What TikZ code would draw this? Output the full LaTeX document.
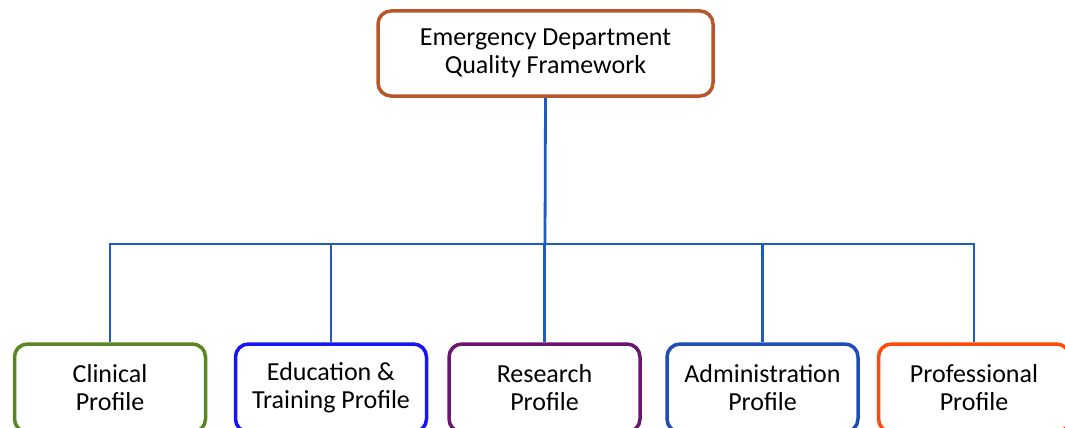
\documentclass[tikz,border=0pt]{standalone}
\usepackage{fontspec}
\setmainfont{Carlito}
\definecolor{topc}{HTML}{B8582A}
\definecolor{clinc}{HTML}{5A8520}
\definecolor{educ}{HTML}{1515F5}
\definecolor{resc}{HTML}{6A1570}
\definecolor{admc}{HTML}{1E4DB8}
\definecolor{proc}{HTML}{FF4A0A}
\definecolor{connc}{HTML}{1F5CBF}
\tikzset{
  box/.style={draw, line width=3.5pt, rounded corners=13pt, fill=white, align=center,
    font=\fontsize{26}{28}\selectfont, inner sep=0pt},
  kid/.style={box, minimum width=191pt, minimum height=88pt},
  conn/.style={draw=connc, line width=2.8pt}
}
\begin{document}
\begin{tikzpicture}[x=1pt,y=-1pt]
\useasboundingbox (0,0) rectangle (1065,428);
\clip (0,0) rectangle (1065,428);
\fill[white] (0,0) rectangle (1065,428);
\node[box, draw=topc, minimum width=335pt, minimum height=85pt] (top) at (545.5,53.5) {Emergency Department\\Quality Framework};
\node[kid, draw=clinc] (c1) at (110,388) {Clinical\\Profile};
\node[kid, draw=educ] (c2) at (331,388) {Education \&\\Training Profile};
\node[kid, draw=resc] (c3) at (544.5,388) {Research\\Profile};
\node[kid, draw=admc] (c4) at (762.5,388) {Administration\\Profile};
\node[kid, draw=proc] (c5) at (974,388) {Professional\\Profile};
\coordinate (j) at (545,244);
\draw[conn] (top.south) -- (j);
\foreach \k in {c1,c2,c3,c4,c5} {\draw[conn] (j) -| (\k.north);}
\end{tikzpicture}
\end{document}
